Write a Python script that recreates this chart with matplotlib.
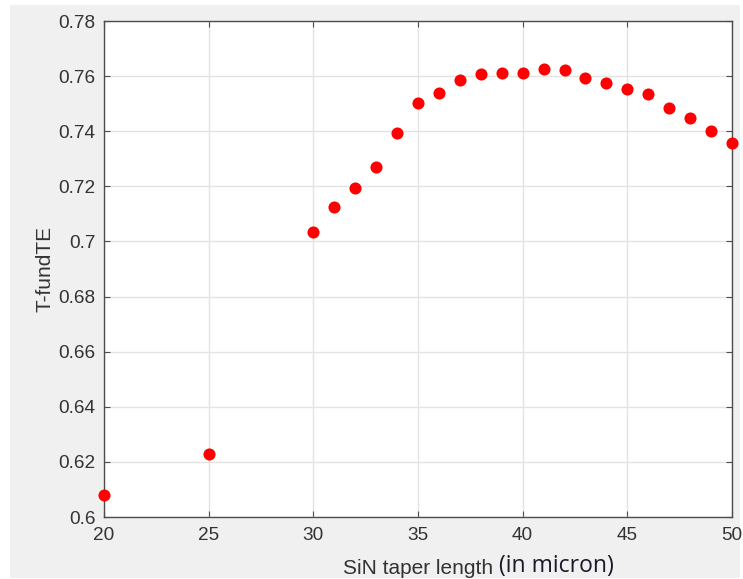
import matplotlib.pyplot as plt
from matplotlib.patches import Rectangle

# taper length (micron) vs fundamental TE transmission
taper_len = [20, 25, 30, 31, 32, 33, 34, 35, 36, 37, 38, 39, 40,
             41, 42, 43, 44, 45, 46, 47, 48, 49, 50]
t_fund_te = [0.608, 0.623, 0.7033, 0.7124, 0.7195, 0.7271, 0.7395, 0.7504,
             0.7538, 0.7586, 0.7608, 0.7611, 0.7611, 0.7626, 0.7622, 0.7593,
             0.7576, 0.7554, 0.7535, 0.7484, 0.7447, 0.7401, 0.7358]

xticks = [20, 25, 30, 35, 40, 45, 50]
yticks = [0.6, 0.62, 0.64, 0.66, 0.68, 0.7, 0.72, 0.74, 0.76, 0.78]
ytick_labels = ["0.6", "0.62", "0.64", "0.66", "0.68", "0.7", "0.72", "0.74", "0.76", "0.78"]

W, H = 743, 579
fig = plt.figure(figsize=(W / 100, H / 100), dpi=100, facecolor="white")
# matlab style grey figure panel (behind everything)
fig.patches.append(Rectangle((10 / W, 1 / H), 730 / W, 573 / H, transform=fig.transFigure,
                             facecolor="#f0f0f0", edgecolor="none", zorder=-10))

ax = fig.add_axes([104 / W, (H - 517) / H, (732 - 104) / W, (517 - 21) / H])
ax.set_facecolor("white")
ax.plot(taper_len, t_fund_te, "o", color="#ff0000", markersize=8.7, markeredgewidth=0,
        clip_on=False, zorder=5)

ax.set_xlim(20, 50)
ax.set_ylim(0.6, 0.78)
ax.set_xticks(xticks)
ax.set_yticks(yticks)
ax.set_yticklabels(ytick_labels)
ax.grid(True, color="#e3e3e3", linewidth=1)
ax.set_axisbelow(True)
for s in ax.spines.values():
    s.set_color("#4d4d4d")
    s.set_linewidth(1.0)
ax.tick_params(direction="in", length=4, width=0.8, color="#4d4d4d",
               top=True, right=True, labelsize=13.7, labelcolor="#333333",
               labelfontfamily="Liberation Sans")
ax.tick_params(axis="x", pad=7)
ax.tick_params(axis="y", pad=6)

ax.set_ylabel("T-fundTE", fontsize=15, color="#333333", family="Liberation Sans", labelpad=3)

# x label: matlab part centred, pasted "(in micron)" right after it
lab = ax.text(0.5, -0.115, "SiN taper length", transform=ax.transAxes, ha="center", va="baseline",
              fontsize=15, color="#333333", family="Liberation Sans")
ax.annotate(" (in micron)", xy=(1, 0), xycoords=lab, va="bottom", ha="left",
            fontsize=16.5, color="#1a1a2a", family="Open Sans")

fig.savefig("out.png", dpi=100, facecolor=fig.get_facecolor())
